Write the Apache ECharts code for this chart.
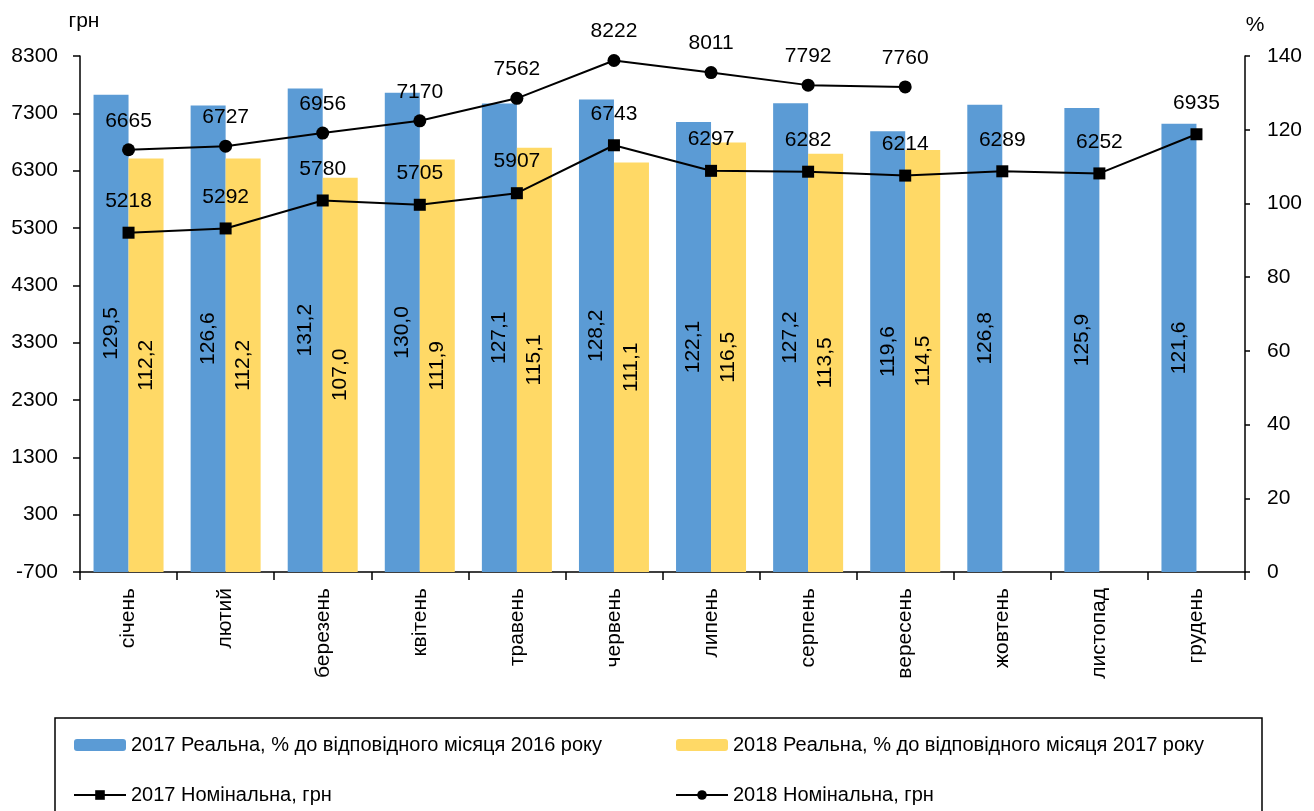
<!DOCTYPE html>
<html><head><meta charset="utf-8">
<script src="https://cdn.jsdelivr.net/npm/echarts@6/dist/echarts.min.js"></script>
<style>html,body{margin:0;padding:0;background:#fff}#c{width:1314px;height:811px}</style>
</head><body><div id="c"></div>
<script>
const months = ['січень','лютий','березень','квітень','травень','червень','липень','серпень','вересень','жовтень','листопад','грудень'];
const real2017 = [129.5,126.6,131.2,130.0,127.1,128.2,122.1,127.2,119.6,126.8,125.9,121.6];
const real2018 = [112.2,112.2,107.0,111.9,115.1,111.1,116.5,113.5,114.5,null,null,null];
const nom2017 = [5218,5292,5780,5705,5907,6743,6297,6282,6214,6289,6252,6935];
const nom2018 = [6665,6727,6956,7170,7562,8222,8011,7792,7760,null,null,null];
const seriesNames = ['2017 Реальна, % до відповідного місяця 2016 року','2018 Реальна, % до відповідного місяця 2017 року','2017 Номінальна, грн','2018 Номінальна, грн'];

const FONT = 'Liberation Sans';
const FS = 21;
const chart = echarts.init(document.getElementById('c'));
const fmtComma = p => p.value == null ? '' : p.value.toFixed(1).replace('.', ',');
const barLabel = {show:true, position:'inside', rotate:90, color:'#000', fontSize:FS, fontFamily:FONT, formatter:fmtComma};
const lineLabel = d => ({show:true, position:'top', distance:d, color:'#000', fontSize:FS, fontFamily:FONT});
const legendText = {fontSize:20, color:'#000', fontFamily:FONT, lineHeight:24};
chart.setOption({
  animation:false,
  textStyle:{fontFamily:FONT},
  grid:{left:80, right:69, top:56, bottom:239},
  graphic:[{type:'rect', shape:{x:55, y:718, width:1207, height:120}, style:{fill:'none', stroke:'#000', lineWidth:1.5}}],
  legend:[
    {left:73, top:733, orient:'vertical', data:[seriesNames[0], seriesNames[2]],
     itemWidth:52, itemHeight:12, itemGap:26, padding:0, textStyle:legendText},
    {left:675, top:733, orient:'vertical', data:[seriesNames[1], seriesNames[3]],
     itemWidth:52, itemHeight:12, itemGap:26, padding:0, textStyle:legendText}
  ],
  xAxis:{
    type:'category', data:months,
    axisLine:{onZero:false, lineStyle:{color:'#000', width:1.5}},
    axisTick:{show:true, alignWithLabel:false, length:8, lineStyle:{color:'#000', width:1.5}},
    axisLabel:{rotate:90, fontSize:FS, color:'#000', margin:16, fontFamily:FONT}
  },
  yAxis:[
    {type:'value', min:-700, max:8300, interval:1000, position:'left',
     name:'грн', nameGap:24, nameTextStyle:{fontSize:FS, color:'#000', fontFamily:FONT, padding:[0,0,0,8]},
     axisLine:{show:true, lineStyle:{color:'#000', width:1.5}},
     axisTick:{show:true, length:7, lineStyle:{color:'#000', width:1.5}},
     axisLabel:{fontSize:FS, color:'#000', margin:22, fontFamily:FONT, formatter:v => String(v)},
     splitLine:{show:false}},
    {type:'value', min:0, max:140, interval:20, position:'right',
     name:'%', nameGap:20, nameTextStyle:{fontSize:FS, color:'#000', fontFamily:FONT, padding:[0,0,0,20]},
     axisLine:{show:true, lineStyle:{color:'#000', width:1.5}},
     axisTick:{show:true, length:5, lineStyle:{color:'#000', width:1.5}},
     axisLabel:{fontSize:FS, color:'#000', margin:22, fontFamily:FONT},
     splitLine:{show:false}}
  ],
  series:[
    {name:seriesNames[0], type:'bar', yAxisIndex:1, data:real2017, barWidth:35, barGap:'0%',
     itemStyle:{color:'#5B9BD5'}, label:barLabel},
    {name:seriesNames[1], type:'bar', yAxisIndex:1, data:real2018, barWidth:35, barGap:'0%',
     itemStyle:{color:'#FFD966'}, label:barLabel},
    {name:seriesNames[2], type:'line', yAxisIndex:0, data:nom2017, symbol:'rect', symbolSize:12,
     lineStyle:{color:'#000', width:2}, itemStyle:{color:'#000'}, label:lineLabel(15), z:5},
    {name:seriesNames[3], type:'line', yAxisIndex:0, data:nom2018, symbol:'circle', symbolSize:13,
     lineStyle:{color:'#000', width:2}, itemStyle:{color:'#000'}, label:lineLabel(12), z:5}
  ]
});
</script></body></html>
